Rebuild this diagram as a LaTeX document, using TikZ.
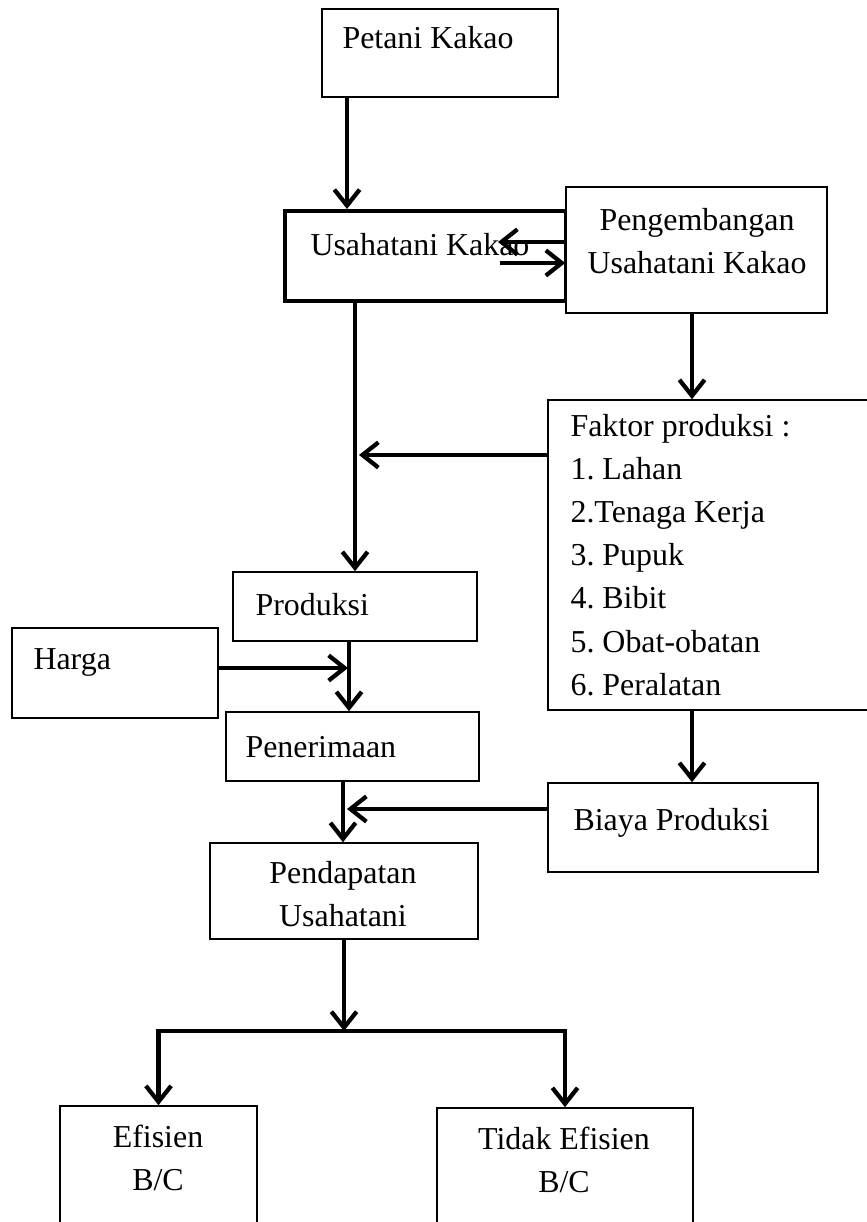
\documentclass[tikz,border=0pt]{standalone}
\usepackage{fontspec}
\setmainfont{Liberation Serif}
\usetikzlibrary{arrows.meta,fit}
\frenchspacing

\tikzset{
  kotak/.style={draw, line width=0.6pt, inner sep=0pt, fill=white},
  kotaktebal/.style={kotak, line width=1.5pt},
  teks/.style={inner sep=0pt, font=\fontsize{12}{16.2}\selectfont},
  panah/.style={line width=1.6pt, -{Straight Barb[length=6pt,width=9.5pt]}},
}

\begin{document}
\begin{tikzpicture}[x=0.376pt, y=-0.376pt]
        \useasboundingbox (0,0) rectangle (866,1222);

        % Kotak-kotak
        \node[kotak, fit={(322,9) (558,97)}] (petani) {};
        \node[kotaktebal, fit={(285,211) (566,301)}] (usaha) {};
        \node[kotak, fit={(566,187) (827,313)}] (kembang) {};
        \node[kotak, fit={(548,400) (875,710)}] (faktor) {};
        \node[kotak, fit={(233,572) (477,641)}] (produksi) {};
        \node[kotak, fit={(12,628) (218,718)}] (harga) {};
        \node[kotak, fit={(226,712) (479,781)}] (penerimaan) {};
        \node[kotak, fit={(548,783) (818,872)}] (biaya) {};
        \node[kotak, fit={(210,843) (478,939)}] (pendapatan) {};
        \node[kotak, fit={(60,1106) (257,1240)}] (efisien) {};
        \node[kotak, fit={(437,1108) (693,1240)}] (tidak) {};

        % Teks
        \node[teks, anchor=west] (tpetani) at (342,38) {Petani Kakao};
        \node[teks, anchor=west] (tusaha) at (310,245) {Usahatani Kakao};
        \node[teks, align=center] (tkembang) at (697,241) {Pengembangan\\Usahatani Kakao};
        \node[teks, anchor=west, align=left] (tfaktor) at (570,555) {Faktor produksi :\\1. Lahan\\2.Tenaga Kerja\\3. Pupuk\\4. Bibit\\5. Obat-obatan\\6. Peralatan};
        \node[teks, anchor=west] (tproduksi) at (255,605) {Produksi};
        \node[teks, anchor=west] (tharga) at (33,662) {Harga};
        \node[teks, anchor=west] (tpenerimaan) at (245,747) {Penerimaan};
        \node[teks, anchor=west] (tbiaya) at (573,823) {Biaya Produksi};
        \node[teks, align=center] (tpendapatan) at (343,894) {Pendapatan\\Usahatani};
        \node[teks, align=center] (tefisien) at (158,1158) {Efisien\\B/C};
        \node[teks, align=center] (ttidak) at (564,1160) {Tidak Efisien\\B/C};

        % Titik bantu
        \coordinate (titik1) at (359,455);
        \coordinate (titik2) at (348,668);
        \coordinate (titik3) at (347,809);
        \coordinate (titik4) at (498,242);
        \coordinate (titik5) at (500,263);
        \coordinate (cabang) at (344,1031);

        % Panah
        \draw[panah] (petani.south -| 347,0) -- (usaha.north -| 347,0);
        \draw[panah] (kembang.west |- 0,242) -- (titik4);
        \draw[panah] (titik5) -- (kembang.west |- 0,263);
        \draw[panah] (usaha.south -| 355,0) -- (produksi.north -| 355,0);
        \draw[panah] (kembang.south -| 692,0) -- (faktor.north -| 692,0);
        \draw[panah] (faktor.west |- 0,455) -- (titik1);
        \draw[panah] (harga.east |- 0,668) -- (titik2);
        \draw[panah] (produksi.south -| 349,0) -- (penerimaan.north -| 349,0);
        \draw[panah] (faktor.south -| 692,0) -- (biaya.north -| 692,0);
        \draw[panah] (biaya.west |- 0,809) -- (titik3);
        \draw[panah] (penerimaan.south -| 343,0) -- (pendapatan.north -| 343,0);
        \draw[panah] (pendapatan.south) -- (cabang);
        \draw[panah] (cabang) -| (efisien.north);
        \draw[panah] (cabang) -| (tidak.north);

    \end{tikzpicture}
\end{document}
